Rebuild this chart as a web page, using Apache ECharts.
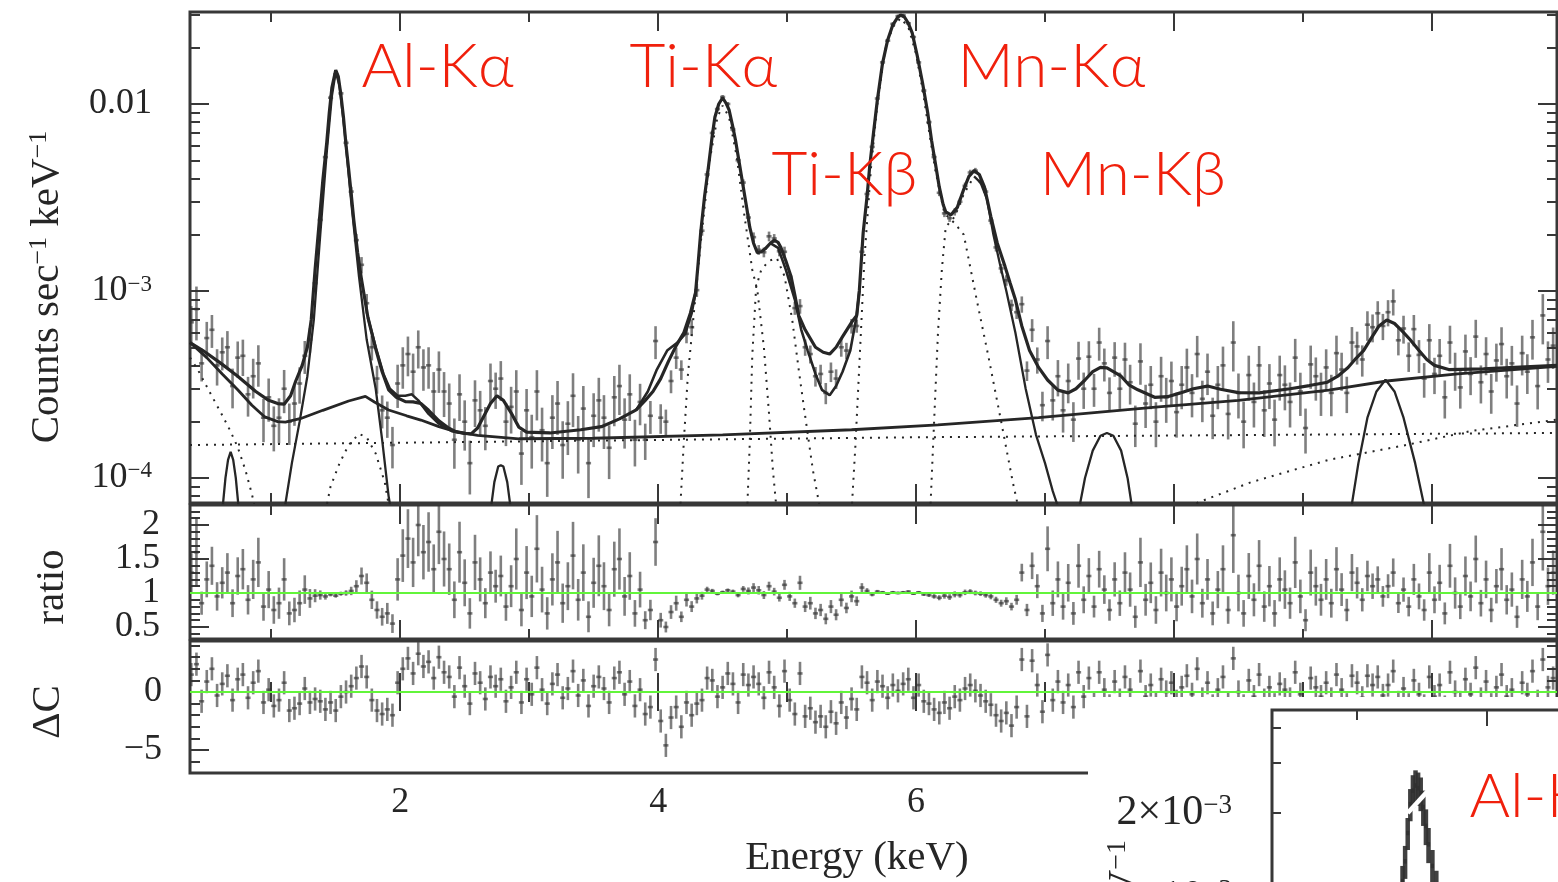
<!DOCTYPE html>
<html>
<head>
<meta charset="utf-8">
<script src="https://cdn.jsdelivr.net/npm/echarts@6.0.0/dist/echarts.min.js"></script>
<style>
  html, body { margin: 0; padding: 0; background: #fff; }
  #chart { width: 1558px; height: 882px; }
</style>
</head>
<body>
<div id="chart"></div>
<script>
// ---------------------------------------------------------------
// Spectrum: counts s^-1 keV^-1 (in units of 1e-4), fit components,
// data/model ratio and delta-C residuals, plus a zoomed Al-K inset.
// ---------------------------------------------------------------

// energy binning of the data (keV)
const BIN0 = 0.38, BINW = 0.04;

// observed rate per bin, units of 1e-4 counts s^-1 keV^-1
const topVal = [
  6.8,8.0,4.1,5.6,6.2,4.0,4.7,5.0,3.1,4.4,
  4.5,2.8,3.5,4.1,2.1,2.7,1.9,2.1,3.0,2.0,
  2.5,3.2,4.5,5.5,11.0,24,52,108,144,114,
  62,34,18.7,13.8,8.6,5.0,3.4,2.3,2.1,1.5,
  3.2,4.0,4.6,3.7,5.0,3.9,4.0,2.9,3.8,2.9,
  2.5,1.6,2.8,2.0,1.2,2.6,2.3,1.9,3.3,3.0,
  3.4,2.0,2.4,2.9,1.35,2.3,1.65,2.9,1.8,1.2,
  2.1,2.5,1.5,1.95,2.75,1.6,2.35,1.2,2.15,2.6,
  2.1,1.45,2.7,3.1,2.05,2.8,1.6,2.55,1.6,2.15,
  5.4,2.1,2.0,3.3,4.4,3.8,5.9,6.4,10.1,21,
  42,70,94,109,100,73,50,38,24.7,19.4,
  16.6,16.1,19.6,19.1,16.3,16.2,11.9,8.1,8.3,5.0,
  4.6,3.5,3.6,2.85,3.7,3.4,5.0,4.8,6.5,6.5,
  16.2,33,59,107,167,218,268,295,298,270,
  228,167,118,80,52,33.5,26,24.5,26.5,30,
  36.5,43,44,38.6,34,23.8,17.1,13.2,11.4,8.4,
  7.7,8.5,3.75,6.2,4.3,2.45,5.4,2.6,3.5,2.3,
  3.3,2.05,4.35,3.0,4.45,3.0,5.3,4.1,2.85,4.4,
  3.0,4.3,3.25,1.95,4.2,2.5,3.15,2.0,3.5,2.7,
  3.3,2.25,3.15,3.9,2.85,4.6,2.65,3.7,2.15,3.15,
  4.0,2.2,5.3,2.85,2.0,3.55,2.55,4.0,2.3,3.2,
  2.05,3.55,3.15,2.55,4.4,2.9,1.85,4.05,3.5,2.9,
  3.9,2.85,4.65,3.8,2.85,5.3,5.05,4.3,6.6,6.4,
  7.6,6.5,7.7,8.8,5.45,6.3,4.5,6.25,4.55,3.4,
  5.45,3.6,4.5,2.7,5.3,3.8,3.05,4.75,3.6,5.7,
  3.25,4.6,2.9,4.25,5.2,3.5,4.1,2.5,4.65,3.7,
  5.65,3.1,7.4,4.3,5.1
];

// fractional 1-sigma error of each bin
const relErr = [
  0.22,0.32,0.2,0.22,0.2,0.22,0.2,0.22,0.24,0.22,
  0.22,0.24,0.24,0.25,0.26,0.26,0.27,0.27,0.26,0.25,
  0.24,0.22,0.2,0.15,0.1,0.07,0.05,0.03,0.03,0.03,
  0.04,0.06,0.08,0.1,0.12,0.15,0.17,0.2,0.22,0.25,
  0.26,0.25,0.24,0.25,0.23,0.25,0.25,0.27,0.25,0.27,
  0.28,0.3,0.28,0.3,0.32,0.28,0.27,0.26,0.24,0.22,
  0.24,0.26,0.28,0.3,0.32,0.3,0.32,0.3,0.32,0.34,
  0.32,0.32,0.34,0.32,0.32,0.34,0.32,0.35,0.32,0.32,
  0.32,0.32,0.3,0.3,0.3,0.28,0.28,0.25,0.22,0.2,
  0.2,0.18,0.16,0.14,0.13,0.12,0.11,0.1,0.08,0.06,
  0.04,0.03,0.025,0.025,0.025,0.03,0.035,0.04,0.05,0.06,
  0.06,0.06,0.06,0.055,0.06,0.065,0.07,0.08,0.09,0.1,
  0.11,0.12,0.12,0.13,0.12,0.12,0.11,0.1,0.09,0.08,
  0.06,0.04,0.03,0.025,0.02,0.02,0.02,0.02,0.02,0.02,
  0.02,0.02,0.025,0.03,0.035,0.04,0.045,0.045,0.045,0.04,
  0.04,0.035,0.035,0.035,0.04,0.045,0.05,0.06,0.065,0.07,
  0.08,0.1,0.12,0.14,0.16,0.18,0.2,0.22,0.22,0.24,
  0.24,0.24,0.23,0.22,0.21,0.2,0.2,0.2,0.21,0.21,
  0.22,0.23,0.24,0.25,0.25,0.26,0.26,0.27,0.27,0.27,
  0.27,0.27,0.26,0.26,0.26,0.25,0.25,0.25,0.25,0.26,
  0.26,0.27,0.3,0.27,0.28,0.27,0.27,0.27,0.28,0.27,
  0.28,0.27,0.27,0.27,0.26,0.26,0.27,0.26,0.26,0.26,
  0.25,0.25,0.24,0.23,0.22,0.21,0.2,0.19,0.18,0.17,
  0.16,0.16,0.16,0.16,0.17,0.17,0.18,0.19,0.2,0.21,
  0.22,0.22,0.23,0.23,0.23,0.23,0.23,0.23,0.23,0.23,
  0.23,0.23,0.24,0.23,0.23,0.24,0.24,0.25,0.24,0.24,
  0.24,0.25,0.3,0.25,0.25
];

// data / model
const ratioVal = [
  1.3,1.6,0.85,1.2,1.4,0.95,1.15,1.3,0.85,1.25,
  1.35,0.9,1.2,1.45,0.8,1.05,0.75,0.85,1.2,0.7,
  0.75,0.85,1.05,0.92,0.96,0.97,0.95,0.98,0.96,0.99,
  1.0,1.03,1.1,1.25,1.15,0.9,0.75,0.65,0.7,0.55,
  1.2,1.55,1.8,1.45,2.0,1.6,1.75,1.35,1.9,1.5,
  1.35,0.9,1.6,1.15,0.7,1.45,1.2,0.85,1.3,1.1,
  1.25,0.8,1.1,1.5,0.75,1.3,0.95,1.65,1.05,0.7,
  1.2,1.45,0.85,1.1,1.55,0.9,1.3,0.65,1.15,1.4,
  1.1,0.75,1.35,1.5,0.95,1.25,0.7,1.05,0.6,0.75,
  1.75,0.6,0.5,0.72,0.85,0.65,0.9,0.8,0.92,0.96,
  1.05,1.03,0.99,1.01,1.04,1.02,0.97,1.06,1.03,1.08,
  1.04,0.97,1.1,1.02,0.93,1.12,0.95,0.85,1.15,0.8,
  0.85,0.7,0.75,0.62,0.8,0.68,0.9,0.78,0.95,0.88,
  1.08,1.03,0.98,1.02,1.01,0.99,1.01,1.0,1.01,1.02,
  0.99,1.01,0.98,0.97,0.95,0.93,0.96,0.94,0.98,0.97,
  1.01,1.02,1.0,0.99,0.97,0.95,0.9,0.85,0.88,0.8,
  0.9,1.3,0.75,1.4,1.1,0.7,1.65,0.85,1.2,0.8,
  1.15,0.7,1.4,0.9,1.25,0.8,1.35,1.05,0.75,1.2,
  0.85,1.3,1.05,0.65,1.45,0.9,1.15,0.75,1.3,1.0,
  1.2,0.8,1.1,1.35,0.95,1.5,0.85,1.2,0.7,1.05,
  1.35,0.75,1.85,1.0,0.7,1.25,0.9,1.4,0.8,1.1,
  0.7,1.2,1.05,0.85,1.45,0.95,0.6,1.3,1.1,0.9,
  1.2,0.85,1.35,1.05,0.75,1.3,1.15,0.9,1.25,1.1,
  1.2,0.95,1.1,1.3,0.85,1.05,0.8,1.2,0.95,0.75,
  1.3,0.9,1.15,0.7,1.4,1.0,0.8,1.25,0.95,1.5,
  0.85,1.2,0.75,1.1,1.35,0.9,1.05,0.65,1.2,0.95,
  1.45,0.8,1.9,1.1,1.3
];

// delta-C residuals (unit error bars)
const dcVal = [
  1.5,2.4,-0.8,0.9,2.0,-0.3,0.7,1.4,-0.7,1.1,
  1.5,-0.5,0.8,1.8,-0.9,0.2,-1.2,-0.7,0.8,-1.6,
  -1.4,-1.0,0.3,-0.9,-0.6,-0.8,-1.5,-0.9,-1.6,-0.4,
  0.0,0.5,1.2,2.2,1.3,-0.7,-1.6,-1.9,-1.5,-2.0,
  0.8,2.0,2.9,1.6,3.3,2.2,2.6,1.2,3.0,1.7,
  1.3,-0.4,2.1,0.5,-1.0,1.6,0.8,-0.6,1.3,0.5,
  1.1,-0.8,0.4,1.7,-0.9,1.1,-0.2,2.1,0.2,-1.0,
  0.7,1.5,-0.5,0.3,1.8,-0.3,1.0,-1.2,0.5,1.3,
  0.3,-0.9,1.2,1.7,-0.2,0.9,-1.2,0.2,-1.9,-1.3,
  2.8,-2.5,-4.6,-2.2,-1.3,-3.0,-0.9,-2.0,-1.0,-0.7,
  1.2,1.0,-0.4,0.4,1.6,0.7,-0.9,1.5,0.6,1.3,
  0.7,-0.5,1.7,0.4,-1.2,1.8,-0.7,-1.9,1.6,-2.1,
  -1.4,-2.6,-2.1,-3.0,-1.7,-2.7,-0.9,-2.2,-0.6,-1.5,
  1.3,0.8,-0.7,0.9,0.5,-0.5,0.6,0.1,0.7,1.1,
  -0.5,0.6,-0.8,-1.0,-1.5,-1.8,-0.9,-1.4,-0.4,-0.7,
  0.3,0.6,0.1,-0.3,-0.8,-1.1,-2.0,-2.5,-1.8,-2.9,
  -1.3,2.8,-2.1,2.7,0.6,-1.7,3.2,-0.7,0.9,-0.9,
  0.6,-1.3,1.7,-0.4,1.2,-1.0,1.7,0.2,-1.2,0.9,
  -0.7,1.3,0.2,-1.6,1.8,-0.4,0.6,-1.0,1.1,0.0,
  0.8,-0.8,0.4,1.4,-0.2,2.0,-0.6,0.8,-1.2,0.2,
  1.3,-1.0,2.9,0.0,-1.2,1.0,-0.4,1.5,-0.7,0.4,
  -1.1,0.7,0.2,-0.6,1.7,-0.2,-1.5,1.2,0.4,-0.4,
  0.8,-0.6,1.5,0.2,-1.1,1.4,0.8,-0.5,1.4,0.6,
  1.3,-0.3,0.6,1.8,-0.9,0.3,-1.1,1.0,-0.2,-1.2,
  1.3,-0.4,0.6,-1.3,1.7,0.0,-0.9,1.1,-0.2,2.1,
  -0.6,0.9,-1.1,0.4,1.5,-0.4,0.2,-1.5,0.8,-0.2,
  1.8,-0.8,2.8,0.4,1.2
];

// total model [keV, 1e-4 counts s^-1 keV^-1]
const modelA = [
  [0.37,5.3],[0.47,4.8],[0.61,4.1],[0.74,3.5],[0.88,2.9],[0.98,2.6],[1.05,2.5],[1.10,2.48],[1.15,2.75],[1.19,3.3],
  [1.24,4.0],[1.28,5.0],[1.31,7.0],[1.34,13],[1.38,27],[1.40,39],[1.43,62],[1.45,90],[1.47,122],[1.50,152],
  [1.52,140],[1.54,112],[1.56,85],[1.58,60],[1.60,45],[1.62,33],[1.64,24],[1.67,16],[1.70,11.5],[1.75,7.2],
  [1.81,4.9],[1.86,3.7],[1.91,2.96],[1.97,2.7],[2.04,2.56],[2.10,2.55],[2.16,2.5],[2.22,2.3],[2.30,2.02],[2.37,1.86],
  [2.43,1.77],[2.50,1.73],[2.55,1.72],[2.60,1.85],[2.65,2.15],[2.70,2.5],[2.75,2.75],[2.80,2.6],[2.86,2.23],[2.92,1.87],
  [2.98,1.76],[3.16,1.74],[3.40,1.81],[3.56,1.88],[3.70,2.07],[3.83,2.31],[3.90,2.6],[3.96,2.9],[4.02,3.4],[4.08,4.2],
  [4.14,5.1],[4.20,6.0],[4.25,7.6],[4.29,9.8],[4.31,14],[4.33,20.5],[4.36,32],[4.39,46],[4.42,68],[4.44,85],
  [4.47,100],[4.50,108],[4.53,100],[4.55,93],[4.58,75],[4.60,64],[4.63,48],[4.66,36],[4.69,27],[4.71,22],
  [4.74,18],[4.77,16],[4.80,16.2],[4.83,16.8],[4.87,18],[4.90,18.7],[4.93,18.2],[4.95,17.2],[4.99,14.5],[5.03,12],
  [5.06,9.5],[5.09,7.4],[5.14,6.2],[5.22,5.0],[5.28,4.7],[5.33,4.6],[5.38,5.0],[5.43,5.7],[5.50,6.8],[5.54,7.4],
  [5.56,10],[5.59,20.5],[5.62,32],[5.64,46],[5.67,70],[5.70,105],[5.74,165],[5.78,220],[5.82,265],[5.86,292],
  [5.88,299],[5.91,292],[5.94,270],[5.97,240],[6.01,180],[6.05,130],[6.09,90],[6.12,64],[6.15,48],[6.18,36],
  [6.21,29],[6.23,26.5],[6.27,25.5],[6.32,28],[6.37,35],[6.41,41],[6.45,44],[6.49,42],[6.53,36],[6.58,25],
  [6.63,18],[6.69,13.5],[6.73,11],[6.77,9],[6.82,6.5],[6.88,4.8],[6.95,3.9],[7.02,3.34],[7.10,2.95],[7.18,2.85],
  [7.24,3.0],[7.31,3.34],[7.37,3.7],[7.43,3.9],[7.48,3.88],[7.53,3.7],[7.59,3.5],[7.65,3.15],[7.72,2.96],[7.85,2.7],
  [7.95,2.72],[8.05,2.85],[8.15,3.0],[8.26,3.1],[8.36,2.98],[8.50,2.86],[8.66,2.85],[8.90,3.0],[9.05,3.12],[9.19,3.25],
  [9.27,3.5],[9.35,3.9],[9.41,4.35],[9.47,4.8],[9.53,5.6],[9.59,6.5],[9.65,7.0],[9.71,6.7],[9.77,6.1],[9.83,5.5],
  [9.90,4.8],[9.96,4.3],[10.02,4.0],[10.13,3.8],[10.40,3.83],[10.97,4.0]
];

// second model curve where it departs from the first
const modelB1 = [[1.75,7.2],[1.81,5.0],[1.87,3.6],[1.92,3.0],[1.98,2.75],[2.04,2.75],[2.09,2.8],[2.14,2.6],[2.22,2.2],[2.30,1.95],[2.40,1.78],[2.50,1.73]];
const modelB2 = [[3.83,2.31],[3.92,2.9],[3.99,3.8],[4.07,4.8],[4.15,5.3],[4.21,5.9],[4.26,7.6],[4.29,9.8]];
const modelB3 = [[4.87,18],[4.93,17],[4.99,13],[5.06,9],[5.11,6.2],[5.16,4.8],[5.22,3.6],[5.27,2.96],[5.33,2.77],[5.38,3.1],[5.43,3.7],[5.49,4.8],[5.54,7.4],[5.56,10]];

// continuum
const continuum = [
  [0.37,5.3],[0.50,4.4],[0.62,3.6],[0.74,2.96],[0.85,2.45],[0.95,2.12],[1.05,2.0],[1.11,1.99],[1.23,2.08],[1.40,2.3],
  [1.60,2.58],[1.73,2.73],[1.80,2.55],[1.91,2.31],[2.05,2.15],[2.16,2.04],[2.30,1.88],[2.43,1.77],[2.60,1.69],[2.92,1.62],
  [3.5,1.63],[4.5,1.7],[5.5,1.81],[6.17,1.92],[6.95,2.1],[7.88,2.4],[8.5,2.6],[9.2,2.95],[9.65,3.3],[10.2,3.6],[10.97,3.95]
];

// solid line components
const lineO = [[0.62,0.66],[0.645,1.0],[0.665,1.25],[0.685,1.38],[0.705,1.25],[0.725,1.0],[0.75,0.66]];
const lineAl = [[1.10,0.66],[1.16,1.2],[1.22,2.0],[1.28,3.5],[1.33,7],[1.38,20],[1.43,55],[1.47,110],[1.50,148],[1.53,125],[1.57,70],[1.62,30],[1.68,12],[1.74,5.5],[1.81,3.0],[1.86,1.6],[1.91,0.8],[1.93,0.66]];
const lineAr = [[2.70,0.66],[2.73,0.95],[2.76,1.15],[2.78,1.17],[2.80,1.15],[2.83,0.95],[2.86,0.66]];
const lineMnKbTail = [[6.45,41],[6.50,38],[6.55,31],[6.60,20],[6.65,14],[6.70,10],[6.77,6],[6.85,3.0],[6.93,1.7],[7.00,1.2],[7.06,0.85],[7.12,0.64]];
const lineNi = [[7.26,0.66],[7.31,1.0],[7.37,1.4],[7.43,1.68],[7.48,1.74],[7.53,1.68],[7.59,1.4],[7.64,1.0],[7.68,0.66]];
const lineAu = [[9.37,0.66],[9.43,1.2],[9.50,2.1],[9.57,2.9],[9.64,3.35],[9.71,2.9],[9.78,2.1],[9.87,1.2],[9.95,0.66]];

// dotted components
const dotPow = [[0.37,1.5],[3.0,1.57],[6.0,1.65],[10.97,1.74]];
const dotLow = [[0.37,4.4],[0.43,3.8],[0.52,2.9],[0.61,2.23],[0.68,1.8],[0.74,1.46],[0.80,1.1],[0.85,0.82],[0.88,0.66]];
const dotSi = [[1.42,0.66],[1.46,0.9],[1.53,1.2],[1.60,1.5],[1.68,1.72],[1.74,1.65],[1.81,1.35],[1.88,0.95],[1.92,0.66]];
const dotTiKa = [[4.17,0.66],[4.20,1.6],[4.23,3.5],[4.28,8],[4.33,18],[4.40,50],[4.46,85],[4.50,98],[4.55,85],[4.61,52],[4.67,25],[4.73,13],[4.77,10],[4.82,5],[4.86,2.2],[4.89,1.1],[4.92,0.66]];
const dotTiKb = [[4.69,0.66],[4.71,1.5],[4.73,4.5],[4.76,10.5],[4.80,13],[4.86,14.5],[4.92,15],[4.98,12],[5.04,7],[5.09,3.8],[5.13,2.4],[5.20,1.1],[5.26,0.66]];
const dotMnKa = [[5.50,0.66],[5.53,1.5],[5.56,4],[5.60,15],[5.65,45],[5.70,100],[5.76,195],[5.82,258],[5.88,288],[5.94,258],[6.00,185],[6.05,120],[6.10,72],[6.15,44],[6.22,26],[6.30,23],[6.37,20],[6.47,9],[6.56,4.5],[6.66,2.0],[6.75,0.95],[6.80,0.66]];
const dotMnKb = [[6.11,0.66],[6.14,2],[6.17,6],[6.20,13],[6.23,22],[6.30,25],[6.37,33],[6.45,41]];
const dotHigh = [[8.0,0.66],[8.6,0.95],[9.2,1.25],[9.8,1.5],[10.3,1.78],[10.97,2.05]];

// zoomed Al-K panel: energy (keV), rate and error in 1e-3 units
const insetE = [1.30,1.33,1.35,1.37,1.39,1.41,1.43,1.45,1.47,1.49,1.51,1.53,1.55,1.58,1.61,1.64,1.66];
const insetVal = [0.85,1.0,1.15,1.35,1.7,2.15,2.4,2.5,2.45,2.35,2.1,1.8,1.55,1.3,1.1,0.95,0.85];
const insetErr = [0.12,0.13,0.15,0.18,0.22,0.28,0.32,0.33,0.33,0.32,0.3,0.26,0.22,0.18,0.15,0.13,0.12];
const insetStroke = [[1.39,2.0],[1.54,2.38]];

// line identifications
const peakLabels = [
  { name: 'Al-Kα', e: 1.700, v: 157.8 },
  { name: 'Ti-Kα', e: 3.778, v: 157.8 },
  { name: 'Mn-Kα', e: 6.321, v: 157.8 },
  { name: 'Ti-Kβ', e: 4.879, v: 41.7 },
  { name: 'Mn-Kβ', e: 6.960, v: 41.7 }
];
const insetLabel = { name: 'Al-Kα', e: 1.865, v: 2.278 };

// tick values
const X_MAJOR = [2, 4, 6, 8, 10];
const X_MINOR = [1, 3, 5, 7, 9];

// ---------------------------------------------------------------
const INK = '#262626';
const BAR = '#303030';
const FRAME = '#383838';
const GREEN = '#62f53a';
const RED = '#f0200c';
const SERIF = '"Liberation Serif", "Times New Roman", serif';
const SANS = 'Lato, "Open Sans", sans-serif';

const X_MIN = 0.37, X_MAX = 10.97;
const SPEC_MIN = -4.134, SPEC_MAX = -1.508;
const RATIO_MIN = 0.3235, RATIO_MAX = 2.294;
const DC_MIN = -6.983, DC_MAX = 4.397;
const INSET_X_MIN = 0.346, INSET_X_MAX = 3.423;
const INSET_Y_MIN = -4.3845, INSET_Y_MAX = -2.335;

const toLog = v => Math.log10(v) - 4;      // 1e-4 units -> log10
const toLog3 = v => Math.log10(v) - 3;     // 1e-3 units -> log10

const specMinor = [];
[-5, -4, -3, -2].forEach(n => { for (let k = 2; k <= 9; k++) specMinor.push(n + Math.log10(k)); });
const ratioMinor = [];
for (let k = 3; k <= 22; k++) if (k % 5 !== 0) ratioMinor.push(k / 10);
const dcMinor = [];
for (let k = -7; k <= 4; k++) if (k % 5 !== 0) dcMinor.push(k);
const insetTicks = [];
[-4, -3].forEach(n => { for (let k = 1; k <= 9; k++) insetTicks.push(n + Math.log10(k)); });

const binE = ratioVal.map((_, i) => +(BIN0 + i * BINW).toFixed(3));

// ---------------------------------------------------------------
const xAxes = [], yAxes = [];
const ticks = (values, len) => ({ show: true, inside: true, length: len, customValues: values,
  lineStyle: { color: FRAME, width: 2 } });
const noLabel = { show: false };
const labelBase = { show: true, fontFamily: SERIF, fontSize: 36, color: INK, hideOverlap: false };

// each panel: ticks on all four sides; the second left axis may carry extra labels
function addFrame(g, ymin, ymax, yMajor, yMinor, yLabel, xLabel, yLabel2) {
  const xb = { type: 'value', gridIndex: g, min: X_MIN, max: X_MAX, axisLine: { show: false }, splitLine: { show: false } };
  const yb = { type: 'value', gridIndex: g, min: ymin, max: ymax, axisLine: { show: false }, splitLine: { show: false } };
  const idx = { x: xAxes.length, y: yAxes.length };
  xAxes.push(
    Object.assign({}, xb, { position: 'bottom', axisTick: ticks(X_MAJOR, 19), axisLabel: xLabel || noLabel }),
    Object.assign({}, xb, { position: 'bottom', axisTick: ticks(X_MINOR, 10), axisLabel: noLabel }),
    Object.assign({}, xb, { position: 'top', axisTick: ticks(X_MAJOR, 19), axisLabel: noLabel }),
    Object.assign({}, xb, { position: 'top', axisTick: ticks(X_MINOR, 10), axisLabel: noLabel })
  );
  yAxes.push(
    Object.assign({}, yb, { position: 'left', axisTick: ticks(yMajor, 19), axisLabel: yLabel }),
    Object.assign({}, yb, { position: 'left', axisTick: ticks(yMinor, 10), axisLabel: yLabel2 || noLabel }),
    Object.assign({}, yb, { position: 'right', axisTick: ticks(yMajor, 19), axisLabel: noLabel }),
    Object.assign({}, yb, { position: 'right', axisTick: ticks(yMinor, 10), axisLabel: noLabel })
  );
  return idx;
}

const supRich = { sup: { fontFamily: SERIF, fontSize: 23, color: INK, verticalAlign: 'top' } };
const supRichBig = { sup: { fontFamily: SERIF, fontSize: 27, color: INK, verticalAlign: 'top' } };

const specAx = addFrame(0, SPEC_MIN, SPEC_MAX, [-4, -3, -2], specMinor,
  Object.assign({}, labelBase, { customValues: [-4, -3, -2], margin: 38, rich: supRich,
    formatter: v => { const n = Math.round(v); return n === -2 ? '0.01' : '10{sup|−' + (-n) + '}'; } }));
const ratioAx = addFrame(1, RATIO_MIN, RATIO_MAX, [0.5, 1, 1.5, 2], ratioMinor,
  Object.assign({}, labelBase, { customValues: [1, 2], margin: 30, formatter: v => String(v) }),
  null,
  Object.assign({}, labelBase, { customValues: [0.5, 1.5], margin: 30, formatter: v => String(v) }));
const dcAx = addFrame(2, DC_MIN, DC_MAX, [-5, 0], dcMinor,
  Object.assign({}, labelBase, { customValues: [-5, 0], margin: 28, formatter: v => v < 0 ? '−' + (-v) : String(v) }),
  Object.assign({}, labelBase, { customValues: X_MAJOR, margin: 12 }));

// blank panel that holds the zoomed view
xAxes.push({ type: 'value', gridIndex: 3, show: false, min: 0, max: 1 });
yAxes.push({ type: 'value', gridIndex: 3, show: false, min: 0, max: 1 });

// zoomed Al-K view axes
const insX = xAxes.length, insY = yAxes.length;
xAxes.push(
  { type: 'value', gridIndex: 4, z: 12, min: INSET_X_MIN, max: INSET_X_MAX, position: 'top', axisLine: { show: false }, splitLine: { show: false }, axisTick: ticks([2], 16), axisLabel: noLabel },
  { type: 'value', gridIndex: 4, z: 12, min: INSET_X_MIN, max: INSET_X_MAX, position: 'top', axisLine: { show: false }, splitLine: { show: false }, axisTick: ticks([1, 3], 10), axisLabel: noLabel }
);
yAxes.push({ type: 'value', gridIndex: 4, z: 12, min: INSET_Y_MIN, max: INSET_Y_MAX, position: 'left',
  axisLine: { show: false }, splitLine: { show: false }, axisTick: ticks(insetTicks, 9),
  axisLabel: Object.assign({}, labelBase, { fontSize: 42, customValues: [-3, Math.log10(2e-3)], margin: 40, rich: supRichBig,
    formatter: v => Math.abs(v + 3) < 1e-6 ? '10{sup|−3}' : '2×10{sup|−3}' }) });

// ---------------------------------------------------------------
function curve(pts, width, dotted, z) {
  return {
    type: 'line', xAxisIndex: specAx.x, yAxisIndex: specAx.y, silent: true, clip: true,
    symbol: 'none', showSymbol: false, z: z || 3,
    data: pts.map(p => [p[0], toLog(p[1])]),
    lineStyle: { color: INK, width: width, type: dotted ? [2, 6] : 'solid' }
  };
}

function errorBars(data, xi, yi, width, z, opacity) {
  return {
    type: 'custom', xAxisIndex: xi, yAxisIndex: yi, clip: true, silent: true, z: z,
    encode: { x: 0, y: 1 },
    data: data,
    renderItem: (params, api) => {
      const e = api.value(0), v = api.value(1), lo = api.value(2), hi = api.value(3), hw = api.value(4);
      const a = api.coord([e, lo]), b = api.coord([e, hi]);
      const l = api.coord([e - hw, v]), r = api.coord([e + hw, v]);
      const style = { stroke: BAR, lineWidth: width, opacity: opacity };
      return { type: 'group', children: [
        { type: 'line', shape: { x1: a[0], y1: a[1], x2: b[0], y2: b[1] }, style: style },
        { type: 'line', shape: { x1: l[0], y1: l[1], x2: r[0], y2: r[1] }, style: style }
      ] };
    }
  };
}

const specPoints = topVal.map((t, i) => [binE[i], toLog(t), toLog(t * (1 - relErr[i])), toLog(t * (1 + relErr[i])), BINW / 2]);
const ratioPoints = ratioVal.map((r, i) => [binE[i], r, r * (1 - relErr[i]), r * (1 + relErr[i]), BINW / 2]);
const dcPoints = dcVal.map((d, i) => [binE[i], d, d - 1, d + 1, BINW / 2]);
const insetPoints = insetVal.map((v, i) => [insetE[i], toLog3(v), toLog3(v - insetErr[i]), toLog3(v + insetErr[i]), 0.012]);

const labelFont = { color: RED, opacity: 1, fontFamily: SANS, fontSize: 62, fontWeight: 300 };
function labelSeries(xi, yi, items, z) {
  return {
    type: 'scatter', xAxisIndex: xi, yAxisIndex: yi, silent: true, symbolSize: 0, z: z, clip: false,
    itemStyle: { opacity: 1 },
    data: items,
    label: Object.assign({ show: true, position: 'right', distance: 0, formatter: '{b}' }, labelFont)
  };
}

const series = [
  errorBars(specPoints, specAx.x, specAx.y, 2.6, 2, 0.62),
  curve(dotPow, 2, true), curve(dotLow, 2, true), curve(dotSi, 2, true),
  curve(dotTiKa, 2, true), curve(dotTiKb, 2, true), curve(dotMnKa, 2, true),
  curve(dotMnKb, 2, true), curve(dotHigh, 2, true),
  curve(lineO, 2.3), curve(lineAl, 2.3), curve(lineAr, 2.3), curve(lineMnKbTail, 2.3),
  curve(lineNi, 2.3), curve(lineAu, 2.3),
  curve(continuum, 2.8, false, 4),
  curve(modelB1, 2.6, false, 4), curve(modelB2, 2.6, false, 4), curve(modelB3, 2.6, false, 4),
  curve(modelA, 3.2, false, 5),

  errorBars(ratioPoints, ratioAx.x, ratioAx.y, 2.6, 2, 0.62),
  { type: 'line', xAxisIndex: ratioAx.x, yAxisIndex: ratioAx.y, silent: true, symbol: 'none', z: 5,
    data: [[X_MIN, 1], [X_MAX, 1]], lineStyle: { color: GREEN, width: 2.2 } },

  errorBars(dcPoints, dcAx.x, dcAx.y, 2.6, 2, 0.62),
  { type: 'line', xAxisIndex: dcAx.x, yAxisIndex: dcAx.y, silent: true, symbol: 'none', z: 5,
    data: [[X_MIN, 0], [X_MAX, 0]], lineStyle: { color: GREEN, width: 2.2 } },

  labelSeries(specAx.x, specAx.y, peakLabels.map(p => ({ name: p.name, value: [p.e, toLog(p.v)] })), 8),

  errorBars(insetPoints, insX, insY, 4.5, 13, 0.92),
  { type: 'line', xAxisIndex: insX, yAxisIndex: insY, silent: true, symbol: 'none', z: 14, clip: true,
    data: insetStroke.map(p => [p[0], toLog3(p[1])]), lineStyle: { color: '#ffffff', width: 4.5 } },
  labelSeries(insX, insY, [{ name: insetLabel.name, value: [insetLabel.e, toLog3(insetLabel.v)] }], 15)
];

function title(text, x, y, rotated, align, z, size) {
  const fs = size || 41;
  return {
    type: 'text', x: x, y: y, rotation: rotated ? Math.PI / 2 : 0, z: z || 1, silent: true,
    style: { text: text, fontFamily: SERIF, fontSize: fs, fill: INK,
      align: align || 'center', verticalAlign: 'middle',
      textAlign: align || 'center', textVerticalAlign: 'middle',
      rich: { s: { fontFamily: SERIF, fontSize: Math.round(fs * 0.63), fill: INK, verticalAlign: 'top' } } }
  };
}

const option = {
  animation: false,
  backgroundColor: '#ffffff',
  grid: [
    { left: 190, top: 12, width: 1367, height: 491 },
    { left: 190, top: 505, width: 1367, height: 134 },
    { left: 190, top: 641, width: 1367, height: 132 },
    { left: 1088, top: 697, right: 0, bottom: 0, backgroundColor: '#ffffff', borderWidth: 0, z: 10 },
    { left: 1272, top: 710, width: 400, height: 580, borderColor: FRAME, borderWidth: 3, backgroundColor: 'rgba(0,0,0,0)', z: 11 }
  ].map(g => Object.assign({ show: true, containLabel: false, outerBoundsMode: 'none',
    borderColor: FRAME, borderWidth: 3, backgroundColor: 'rgba(0,0,0,0)' }, g)),
  xAxis: xAxes,
  yAxis: yAxes,
  series: series,
  graphic: [
    title('Counts sec{s|−1} keV{s|−1}', 47, 287, true),
    title('ratio', 52, 587, true),
    title('ΔC', 48, 712, true),
    title('Energy (keV)', 857, 858, false),
    title('Counts sec{s|−1} keV{s|−1}', 1126, 840, true, 'right', 20, 44)
  ]
};

const chart = echarts.init(document.getElementById('chart'), null, { renderer: 'canvas', width: 1558, height: 882 });
chart.setOption(option);
</script>
</body>
</html>
